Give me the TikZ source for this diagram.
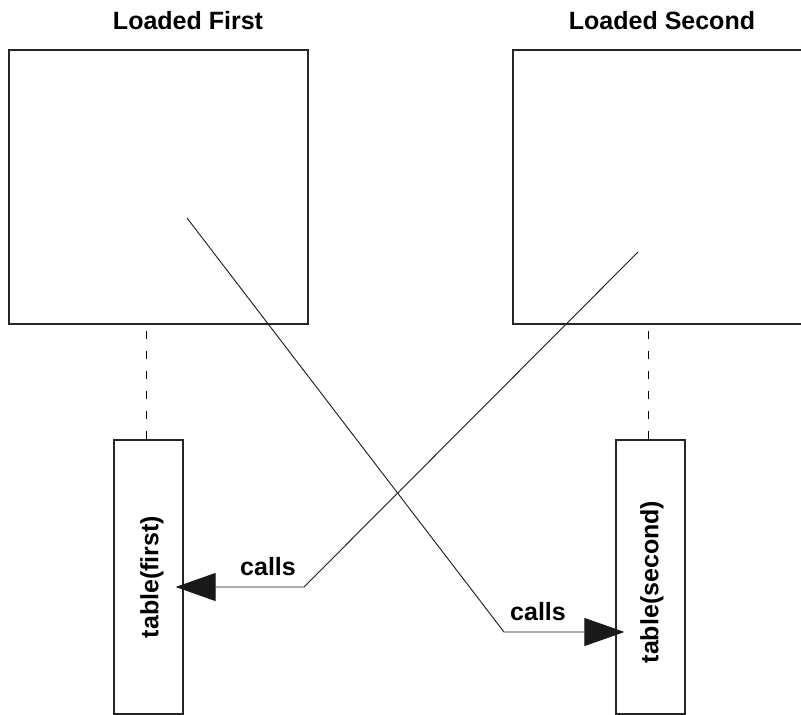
\documentclass[tikz,border=0pt]{standalone}
\usepackage{fontspec}
\setmainfont{Liberation Sans}
\usetikzlibrary{arrows.meta,calc}
\begin{document}
\begin{tikzpicture}[x=1pt,y=-1pt,
  lbl/.style={font=\fontsize{25}{30}\selectfont\bfseries, inner sep=0pt},
  bigbox/.style={draw=black!85, line width=1.6pt, inner sep=0pt},
  tablebox/.style={draw=black!85, line width=1.2pt, inner sep=0pt,
                   minimum width=69pt, minimum height=274pt},
  lifeline/.style={draw=black, line width=1.6pt, dash pattern=on 8pt off 12pt},
  call/.style={draw=black!90, line width=0.9pt,
               -{Triangle[length=40pt,width=28pt]}}]
\useasboundingbox (0,0) rectangle (801,715);
\clip (0,0) rectangle (801,715);

% module boxes
\node[bigbox, minimum width=299pt, minimum height=274pt] (first) at (158.5,187) {};
\node[bigbox, minimum width=317pt, minimum height=274pt] (second) at (671.5,187) {};
\node[lbl] (tfirst) at (188,21) {Loaded First};
\node[lbl] (tsecond) at (662,21) {Loaded Second};

% tables
\node[tablebox] (t1) at (148.5,577) {};
\node[tablebox] (t2) at (650.5,577) {};
\node[lbl, rotate=90] (l1) at (152,577) {table(first)};
\node[lbl, rotate=90] (l2) at (652,582) {table(second)};

% lifelines
\draw[lifeline] ($(t1.north)+(-2,0)$) -- ($(t1.north |- first.south)+(-2,0)$);
\draw[lifeline] ($(t2.north)+(-2,0)$) -- ($(t2.north |- second.south)+(-2,0)$);

% calls
\coordinate (a1) at (187,218);
\coordinate (b1) at (504,632);
\coordinate (a2) at (638,252);
\coordinate (b2) at (304,587);
\draw[call] (a1) -- (b1) -- ($(t2.west |- b1)+(9,0)$);
\draw[call] (a2) -- (b2) -- ($(t1.east |- b2)+(-8,0)$);
\node[lbl] (c1) at (538,612) {calls};
\node[lbl] (c2) at (268,567) {calls};
\end{tikzpicture}
\end{document}
